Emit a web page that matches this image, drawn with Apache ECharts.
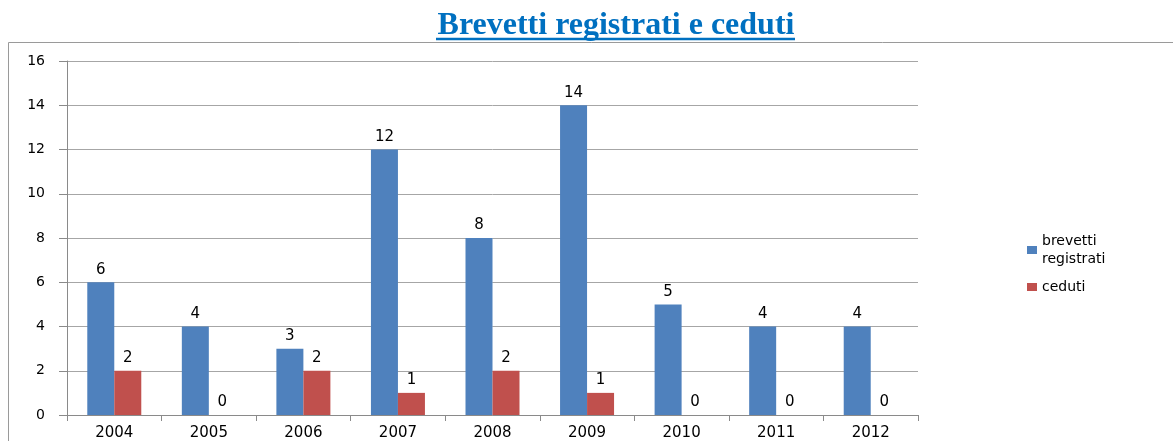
<!DOCTYPE html>
<html>
<head>
<meta charset="utf-8">
<script src="https://cdn.jsdelivr.net/npm/echarts@6/dist/echarts.min.js"></script>
<style>
html,body{margin:0;padding:0;background:#fff;}
#chart{width:1173px;height:441px;}
</style>
</head>
<body>
<div id="chart"></div>
<script>
const years = ['2004','2005','2006','2007','2008','2009','2010','2011','2012'];
const brevettiRegistrati = [6, 4, 3, 12, 8, 14, 5, 4, 4];
const ceduti = [2, 0, 2, 1, 2, 1, 0, 0, 0];
const yTicks = {min: 0, max: 16, interval: 2};

const chart = echarts.init(document.getElementById('chart'));
const labelStyle = {
  show: true, position: 'top', color: '#000',
  fontFamily: 'DejaVu Sans', fontSize: 15, distance: 5
};
chart.setOption({
  animation: false,
  backgroundColor: '#fff',
  title: {
    text: 'Brevetti registrati e ceduti',
    left: 611, top: 5, textAlign: 'center',
    textStyle: {fontFamily: 'Liberation Serif', fontWeight: 'bold', fontSize: 32, color: '#0070C0'}
  },
  graphic: [
    {type: 'rect', shape: {x: 8.5, y: 42.5, width: 1200, height: 500}, style: {fill: 'none', stroke: '#9a9a9a', lineWidth: 1}, z: -1},
    {type: 'line', shape: {x1: 436, y1: 39, x2: 795, y2: 39}, style: {stroke: '#0070C0', lineWidth: 2.5}}
  ],
  legend: {
    orient: 'vertical', left: 1022, top: 227,
    itemWidth: 10, itemHeight: 8, itemGap: 10,
    icon: 'rect',
    textStyle: {fontFamily: 'DejaVu Sans', fontSize: 14, color: '#000', lineHeight: 18},
    formatter: n => n === 'brevetti registrati' ? 'brevetti\nregistrati' : n,
    data: ['brevetti registrati', 'ceduti']
  },
  grid: {left: 67, right: 255, top: 61, bottom: 26},
  xAxis: {
    type: 'category', data: years,
    axisLine: {lineStyle: {color: '#8a8a8a'}},
    axisTick: {show: true, length: 6, lineStyle: {color: '#8a8a8a'}},
    axisLabel: {color: '#000', fontFamily: 'DejaVu Sans', fontSize: 15, margin: 11}
  },
  yAxis: {
    type: 'value', min: yTicks.min, max: yTicks.max, interval: yTicks.interval,
    axisLine: {show: true, lineStyle: {color: '#8a8a8a'}},
    axisTick: {show: true, length: 8, lineStyle: {color: '#8a8a8a'}},
    axisLabel: {color: '#000', fontFamily: 'DejaVu Sans', fontSize: 14, margin: 22},
    splitLine: {lineStyle: {color: '#a6a6a6'}}
  },
  series: [
    {name: 'brevetti registrati', type: 'bar', data: brevettiRegistrati, barWidth: 27, barGap: '0%',
     itemStyle: {color: '#4F81BD'}, label: labelStyle},
    {name: 'ceduti', type: 'bar', data: ceduti, barWidth: 27,
     itemStyle: {color: '#C0504D'}, label: labelStyle}
  ]
});
</script>
</body>
</html>
